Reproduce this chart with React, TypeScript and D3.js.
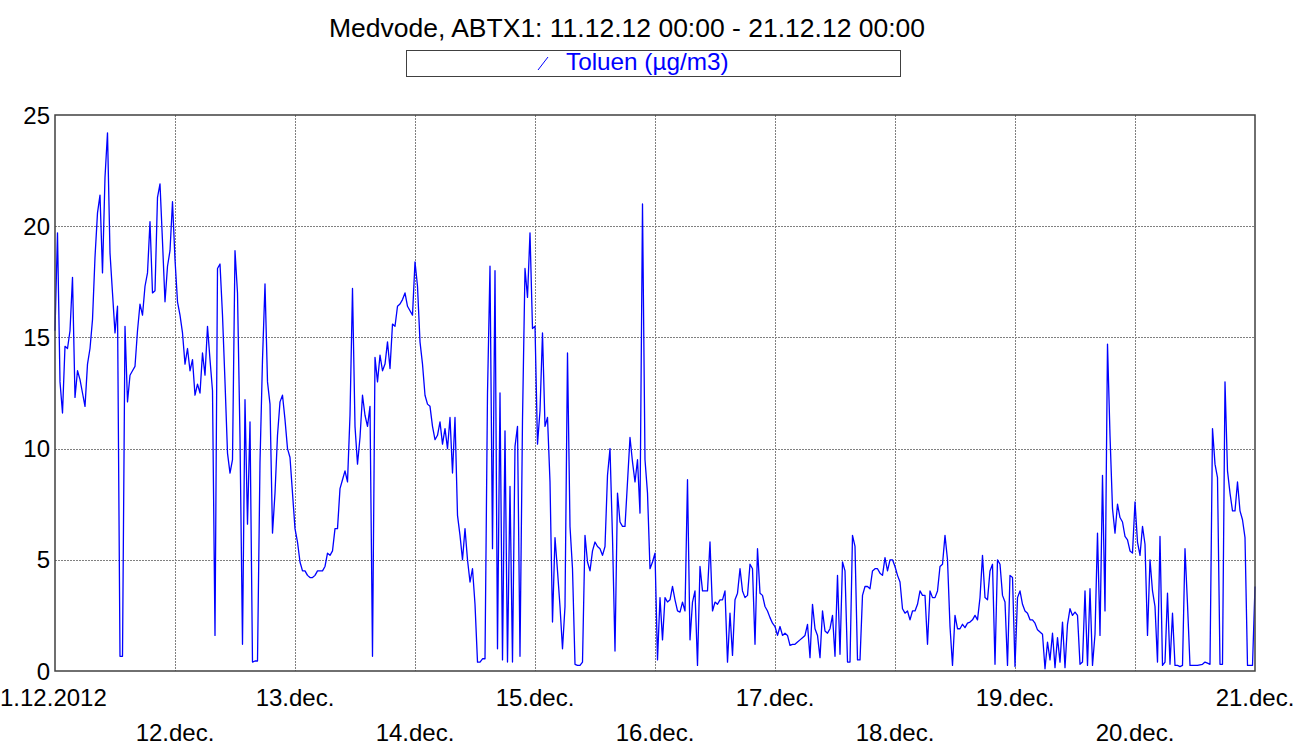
import React from 'react';
import * as d3 from 'd3';

// Toluen, Medvode ABTX1, half-hourly values (µg/m3), 11.12.2012 00:00 - 21.12.2012 00:00
const dec11 = [15.3, 19.7, 13.0, 11.6, 14.6, 14.5, 15.3, 17.7, 12.3, 13.5, 13.1, 12.5, 11.9, 13.8, 14.5, 15.8, 18.6, 20.6, 21.4, 17.9, 22.2, 24.2, 18.8, 17.0, 15.2, 16.4, 0.66, 0.66, 15.5, 12.1, 13.3, 13.5, 13.7, 15.3, 16.5, 16.0, 17.3, 17.9, 20.2, 17.0, 17.1, 21.3, 21.9, 19.3, 16.6, 18.2, 18.9, 21.1];
const dec12 = [18.5, 16.6, 16.0, 15.2, 13.8, 14.5, 13.5, 14.0, 12.4, 12.9, 12.5, 14.3, 13.3, 15.5, 14.0, 12.6, 1.6, 18.1, 18.3, 16.0, 13.0, 9.8, 8.9, 9.5, 18.9, 17.0, 10.5, 1.2, 12.2, 6.6, 11.2, 0.4, 0.45, 0.45, 9.4, 14.0, 17.4, 13.0, 12.0, 6.2, 8.0, 10.6, 12.1, 12.4, 11.3, 10.0, 9.6, 8.0];
const dec13 = [6.4, 5.8, 4.9, 4.5, 4.5, 4.3, 4.2, 4.2, 4.3, 4.5, 4.5, 4.5, 4.7, 5.3, 5.2, 5.4, 6.4, 6.4, 8.2, 8.6, 9.0, 8.5, 11.5, 17.2, 11.0, 9.3, 10.5, 12.4, 11.5, 11.0, 11.9, 0.66, 14.1, 13.0, 14.2, 13.5, 13.8, 14.8, 13.6, 15.6, 15.5, 16.4, 16.5, 16.7, 17.0, 16.4, 16.2, 16.0];
const dec14 = [18.4, 17.3, 14.8, 13.8, 12.4, 12.0, 11.9, 11.0, 10.4, 10.6, 11.2, 10.2, 10.9, 10.0, 11.4, 8.9, 11.4, 7.0, 6.1, 5.0, 6.4, 5.0, 4.0, 4.6, 3.0, 0.4, 0.4, 0.55, 0.55, 12.5, 18.2, 5.5, 18.0, 1.0, 12.5, 0.5, 10.8, 0.4, 8.3, 0.4, 10.1, 11.0, 0.66, 11.3, 18.1, 16.8, 19.7, 15.4];
const dec15 = [15.5, 10.2, 11.7, 15.2, 11.0, 11.4, 8.5, 2.2, 6.0, 4.5, 2.9, 1.0, 2.9, 14.3, 6.5, 4.6, 0.3, 0.25, 0.25, 0.4, 6.1, 4.9, 4.5, 5.4, 5.8, 5.6, 5.5, 5.2, 5.6, 8.8, 10.0, 6.0, 0.9, 8.0, 6.7, 6.5, 6.5, 8.5, 10.5, 9.4, 8.5, 9.5, 7.1, 21.0, 9.5, 8.0, 4.6, 4.9];
const dec16 = [5.3, 0.5, 3.3, 1.4, 3.3, 3.1, 3.2, 3.8, 3.2, 2.7, 2.65, 3.1, 2.7, 8.6, 1.4, 3.1, 3.6, 0.25, 4.7, 3.6, 3.6, 3.6, 5.8, 2.7, 3.1, 3.0, 3.2, 3.2, 3.6, 0.4, 2.6, 0.7, 3.2, 3.5, 4.6, 3.6, 3.3, 3.4, 4.8, 4.6, 1.2, 5.5, 3.5, 3.4, 2.9, 2.7, 2.4, 2.15];
const dec17 = [2.0, 1.6, 2.0, 1.6, 1.7, 1.6, 1.15, 1.2, 1.2, 1.3, 1.4, 1.5, 1.6, 2.1, 0.6, 3.0, 1.9, 1.6, 0.6, 2.7, 1.8, 1.7, 1.9, 2.5, 0.66, 4.3, 0.75, 4.9, 4.5, 0.4, 0.4, 6.1, 5.6, 0.5, 0.5, 3.4, 3.8, 3.8, 3.7, 4.5, 4.6, 4.6, 4.4, 4.3, 5.1, 4.5, 5.0, 5.0];
const dec18 = [4.7, 4.3, 4.0, 2.8, 2.6, 2.7, 2.3, 2.7, 2.7, 3.0, 3.6, 3.4, 3.4, 1.2, 3.6, 3.3, 3.3, 3.6, 4.7, 4.8, 6.1, 5.0, 2.0, 0.25, 2.5, 1.9, 1.9, 2.1, 1.95, 2.15, 2.2, 2.3, 2.5, 2.3, 3.3, 5.2, 3.3, 3.2, 4.5, 4.8, 0.3, 5.0, 4.8, 3.4, 3.1, 0.25, 4.3, 4.2];
const dec19 = [0.2, 3.3, 3.6, 3.0, 2.7, 2.6, 2.3, 2.3, 2.15, 1.85, 1.75, 1.65, 0.1, 1.3, 0.5, 1.7, 0.15, 1.5, 0.4, 2.2, 0.15, 2.1, 2.8, 2.5, 2.65, 2.5, 0.3, 0.4, 3.6, 0.25, 3.7, 0.25, 1.65, 6.2, 1.6, 8.8, 2.7, 14.7, 10.6, 7.3, 6.2, 7.5, 6.9, 6.7, 6.05, 5.9, 5.4, 5.3];
const dec20 = [7.6, 5.8, 5.2, 6.5, 5.7, 1.6, 5.0, 3.6, 2.9, 0.4, 6.05, 0.25, 0.4, 3.5, 0.3, 2.6, 0.25, 0.25, 0.2, 0.25, 5.5, 3.0, 0.25, 0.25, 0.25, 0.25, 0.28, 0.3, 0.4, 0.35, 0.3, 10.9, 9.3, 8.7, 0.3, 0.3, 13.0, 9.0, 8.0, 7.2, 7.2, 8.5, 7.2, 6.8, 6.0, 0.25, 0.25, 0.25];
const dec21 = [3.8];

const yTicks = [0, 5, 10, 15, 20, 25];
const dayLabels = ['1.12.2012', '12.dec.', '13.dec.', '14.dec.', '15.dec.', '16.dec.', '17.dec.', '18.dec.', '19.dec.', '20.dec.', '21.dec.'];

const title = 'Medvode, ABTX1: 11.12.12 00:00 - 21.12.12 00:00';
const seriesName = 'Toluen (µg/m3)';

const FONT = '"Liberation Sans", Arial, sans-serif';

export default function App() {
  const width = 1297;
  const height = 747;
  const margin = { left: 55, right: 42, top: 115, bottom: 76 };

  const start = new Date(Date.UTC(2012, 11, 11));
  const end = new Date(Date.UTC(2012, 11, 21));
  const step = 30 * 60 * 1000;

  const values = [...dec11, ...dec12, ...dec13, ...dec14, ...dec15, ...dec16, ...dec17, ...dec18, ...dec19, ...dec20, ...dec21];
  const data = values.map((v, i) => ({ t: new Date(start.getTime() + i * step), v }));

  const x = d3.scaleUtc().domain([start, end]).range([margin.left, width - margin.right]);
  const y = d3.scaleLinear().domain([0, 25]).range([height - margin.bottom, margin.top]);

  const line = d3
    .line<{ t: Date; v: number }>()
    .x((d) => x(d.t))
    .y((d) => y(d.v));

  const days = d3.utcDay.range(start, new Date(end.getTime() + 1));
  const [x0, x1] = x.range();
  const [yb, yt] = y.range();

  return (
    <svg width={width} height={height} style={{ position: 'absolute', left: 0, top: 0, background: '#fff' }}>
      <rect width={width} height={height} fill="#fff" />

      {/* title */}
      <text x={627} y={37} textAnchor="middle" fontFamily={FONT} fontSize={26.5} fill="#000">
        {title}
      </text>

      {/* legend */}
      <rect x={406.5} y={50.5} width={494} height={26} fill="#fff" stroke="#404040" strokeWidth={1} />
      <line x1={538} y1={70} x2={548} y2={57} stroke="#0000ff" strokeWidth={1} />
      <text x={566} y={70} fontFamily={FONT} fontSize={24.3} fill="#0000ff">
        {seriesName}
      </text>

      {/* grid */}
      <g stroke="#808080" strokeWidth={1} strokeDasharray="2,1" shapeRendering="crispEdges">
        {days.slice(1, -1).map((d, i) => (
          <line key={'v' + i} x1={Math.round(x(d)) + 0.5} x2={Math.round(x(d)) + 0.5} y1={yt} y2={yb} />
        ))}
        {yTicks.slice(1, -1).map((t) => (
          <line key={'h' + t} x1={x0} x2={x1} y1={Math.round(y(t)) + 0.5} y2={Math.round(y(t)) + 0.5} />
        ))}
      </g>

      {/* series */}
      <path d={line(data) || ''} fill="none" stroke="#0000ff" strokeWidth={1.3} strokeLinejoin="round" />

      {/* frame */}
      <rect x={x0} y={yt} width={x1 - x0} height={yb - yt} fill="none" stroke="#404040" strokeWidth={1.5} />

      {/* y axis labels */}
      {yTicks.map((t) => (
        <text key={'yl' + t} x={50} y={y(t) + 8.5} textAnchor="end" fontFamily={FONT} fontSize={24} fill="#000">
          {t}
        </text>
      ))}

      {/* x axis labels, staggered in two rows */}
      {days.map((d, i) => {
        const label = dayLabels[i];
        const isFirst = i === 0;
        return (
          <text
            key={'xl' + i}
            x={isFirst ? 0 : x(d)}
            y={i % 2 === 0 ? 706 : 741}
            textAnchor={isFirst ? 'start' : 'middle'}
            fontFamily={FONT}
            fontSize={24}
            fill="#000"
          >
            {label}
          </text>
        );
      })}
    </svg>
  );
}
